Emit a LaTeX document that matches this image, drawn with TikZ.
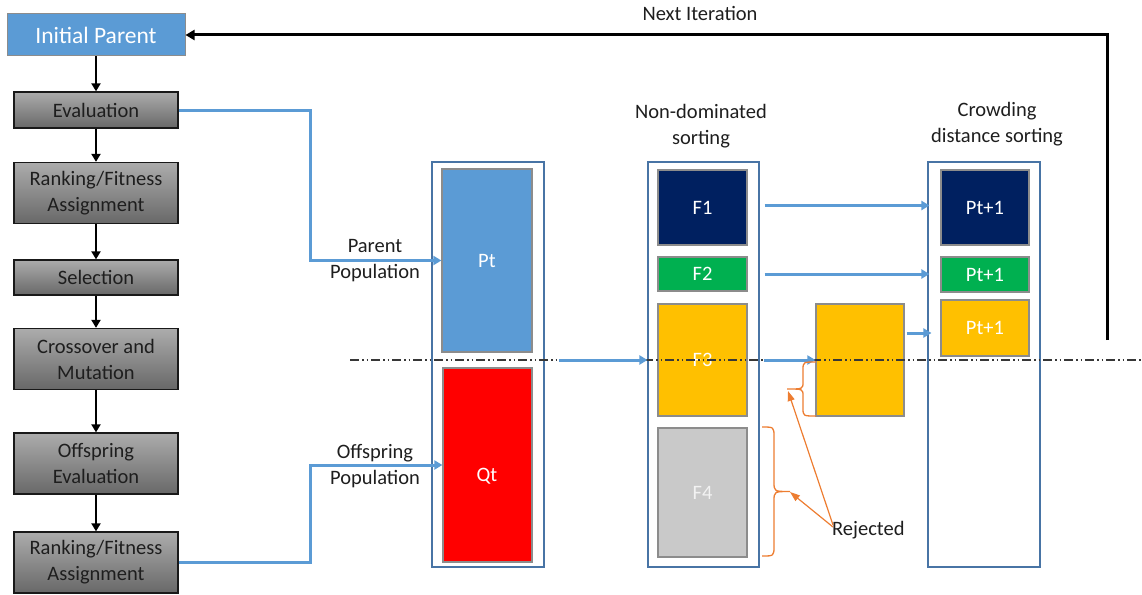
\documentclass[tikz,border=0pt]{standalone}
\usepackage{fontspec}
\setmainfont{Carlito}
\usetikzlibrary{arrows.meta,calc}

\definecolor{pblue}{RGB}{91,155,213}
\definecolor{navyc}{RGB}{0,32,96}
\definecolor{greenc}{RGB}{0,176,80}
\definecolor{amberc}{RGB}{255,192,0}
\definecolor{redc}{RGB}{255,0,0}
\definecolor{greyf}{RGB}{201,201,201}
\definecolor{contc}{RGB}{72,116,165}
\definecolor{orangec}{RGB}{237,125,49}
\definecolor{edgec}{RGB}{140,140,140}
\definecolor{gtop}{RGB}{172,172,172}
\definecolor{gbot}{RGB}{104,104,104}
\definecolor{dashc}{RGB}{55,55,55}
\definecolor{inkc}{RGB}{30,30,30}

\begin{document}
\begin{tikzpicture}[x=1pt,y=-1pt,
  txt/.style={font=\fontsize{20.5}{26}\selectfont, text=inkc, align=center, inner sep=0pt},
  wtxt/.style={font=\fontsize{20.5}{26}\selectfont, text=white, inner sep=0pt},
  proc/.style={draw=black!90, line width=1.3pt, top color=gtop, bottom color=gbot,
    minimum width=164pt, align=center, inner sep=0pt,
    font=\fontsize{20.5}{26}\selectfont, text=inkc},
  startbox/.style={draw=edgec, line width=1pt, fill=pblue, minimum width=178pt,
    minimum height=42pt, inner sep=0pt, font=\fontsize{23.5}{28}\selectfont, text=white},
  cont/.style={draw=contc, line width=1.1pt, inner sep=0pt},
  blk/.style={draw=edgec, line width=1.2pt, inner sep=0pt,
    font=\fontsize{20.5}{26}\selectfont, text=white},
  flow/.style={draw=black, line width=2.5pt, -{Triangle[length=8pt,width=9pt]}},
  barrow/.style={draw=pblue, line width=3pt, -{Triangle[length=8pt,width=9pt]}},
  oarrow/.style={draw=orangec, line width=1.2pt, -{Triangle[length=10pt,width=7pt]}},
  obrace/.style={draw=orangec, line width=1.3pt},
  cut/.style={draw=dashc, line width=1.4pt,
    dash pattern=on 9pt off 3pt on 1.5pt off 3pt on 1.5pt off 3pt}
]
\useasboundingbox (0,0) rectangle (1142,594);

% ---------- process column ----------
\node[startbox] (ip) at (96,35) {Initial Parent};
\node[proc, minimum height=36pt] (ev) at (96,110) {Evaluation};
\node[proc, minimum height=61pt] (rk) at (96,193) {Ranking/Fitness\\Assignment};
\node[proc, minimum height=35pt] (se) at (96,277.5) {Selection};
\node[proc, minimum height=61pt] (cm) at (96,359) {Crossover and\\Mutation};
\node[proc, minimum height=61pt] (oe) at (96,463.5) {Offspring\\Evaluation};
\node[proc, minimum height=61pt] (rk2) at (96,562.5) {Ranking/Fitness\\Assignment};

\draw[flow] (ip) -- (ev);
\draw[flow] (ev) -- (rk);
\draw[flow] (rk) -- (se);
\draw[flow] (se) -- (cm);
\draw[flow] (cm) -- (oe);
\draw[flow] (oe) -- (rk2);

% ---------- population containers ----------
\node[cont, minimum width=112pt, minimum height=405pt] (pc) at (488,364.5) {};
\node[cont, minimum width=111pt, minimum height=405pt] (fc) at (703.5,364.5) {};
\node[cont, minimum width=112pt, minimum height=405pt] (cc) at (984,364.5) {};

\node[blk, fill=pblue, minimum width=90pt, minimum height=183pt] (pt) at (487,260.5) {Pt};
\node[blk, fill=redc, minimum width=89pt, minimum height=194pt] (qt) at (487.5,465) {};
\node[wtxt] (qtl) at (487,476) {Qt};

\node[blk, fill=navyc, minimum width=89pt, minimum height=75pt] (f1) at (702.5,207.5) {F1};
\node[blk, fill=greenc, minimum width=89pt, minimum height=34pt] (f2) at (702.5,274) {F2};
\node[blk, fill=amberc, minimum width=89pt, minimum height=112pt] (f3) at (702.5,360) {F3};
\node[blk, fill=greyf, minimum width=89pt, minimum height=129pt, text=white!95!black] (f4) at (702.5,492.5) {F4};

\node[blk, fill=amberc, minimum width=88pt, minimum height=112pt] (mid) at (860,360) {};

\node[blk, fill=navyc, minimum width=88pt, minimum height=75pt] (c1) at (985,207.5) {Pt+1};
\node[blk, fill=greenc, minimum width=88pt, minimum height=35pt] (c2) at (985,274.5) {Pt+1};
\node[blk, fill=amberc, minimum width=88pt, minimum height=56pt] (c3) at (985,328) {Pt+1};

% ---------- headings ----------
\node[txt] (hnd) at (701,126) {Non-dominated\\sorting};
\node[txt] (hcd) at (997,124) {Crowding\\distance sorting};
\node[txt] (hni) at (700,13) {Next Iteration};
\node[txt] (lpp) at (375,261) {Parent\\Population};
\node[txt] (lop) at (375,466) {Offspring\\Population};

% ---------- population feeds ----------
\draw[barrow] (ev.east) -- (310,110) |- (pt.west);
\draw[barrow] (rk2.east) -- (310,562.5) |- (qt.west);

% ---------- cut line ----------
\coordinate (cutl) at (350,360);
\coordinate (cutr) at (1142,360);
\draw[cut] (cutl) -- (cutr);

% ---------- sorting flows ----------
\coordinate (a0) at (559,360);
\coordinate (a1) at (764,360);
\draw[barrow] (a0) -- (fc.west |- a0);
\draw[barrow] (a1) -- (mid.west |- a1);
\draw[barrow] ($(fc.east |- f1)+(5,-2)$) -- ($(cc.west |- f1)+(2,-2)$);
\draw[barrow] ($(fc.east |- f2)+(5,0)$) -- ($(cc.west |- f2)+(2,0)$);
\draw[barrow] ($(mid.east)+(2,-27)$) -- ($(cc.west |- mid.east)+(4,-27)$);

% ---------- rejected fronts (curly braces) ----------
% brace left of the cut-off part of F3
\draw[obrace] (816,362) .. controls (803,362) .. (803,370)
  -- (803,382) .. controls (803,389) .. (787,389)
  .. controls (803,389) .. (803,396)
  -- (803,408) .. controls (803,416) .. (816,416);
% brace right of F4
\draw[obrace] (762,427) .. controls (774,427) .. (774,437)
  -- (774,482) .. controls (774,491.5) .. (790,491.5)
  .. controls (774,491.5) .. (774,501)
  -- (774,546) .. controls (774,556) .. (762,556);

\node[txt, anchor=west] (rej) at (832,530) {Rejected};
\coordinate (tipa) at (788,391);
\coordinate (tipb) at (790,492);
\draw[oarrow] ($(rej.west)+(1,-5)$) -- (tipa);
\draw[oarrow] ($(rej.west)+(1,-3)$) -- (tipb);

% ---------- loop back ----------
\coordinate (nib) at (1107,340);
\draw[draw=black, line width=3pt, -{Triangle[length=9pt,width=10pt]}] (nib) |- (ip.east);

\end{tikzpicture}
\end{document}
